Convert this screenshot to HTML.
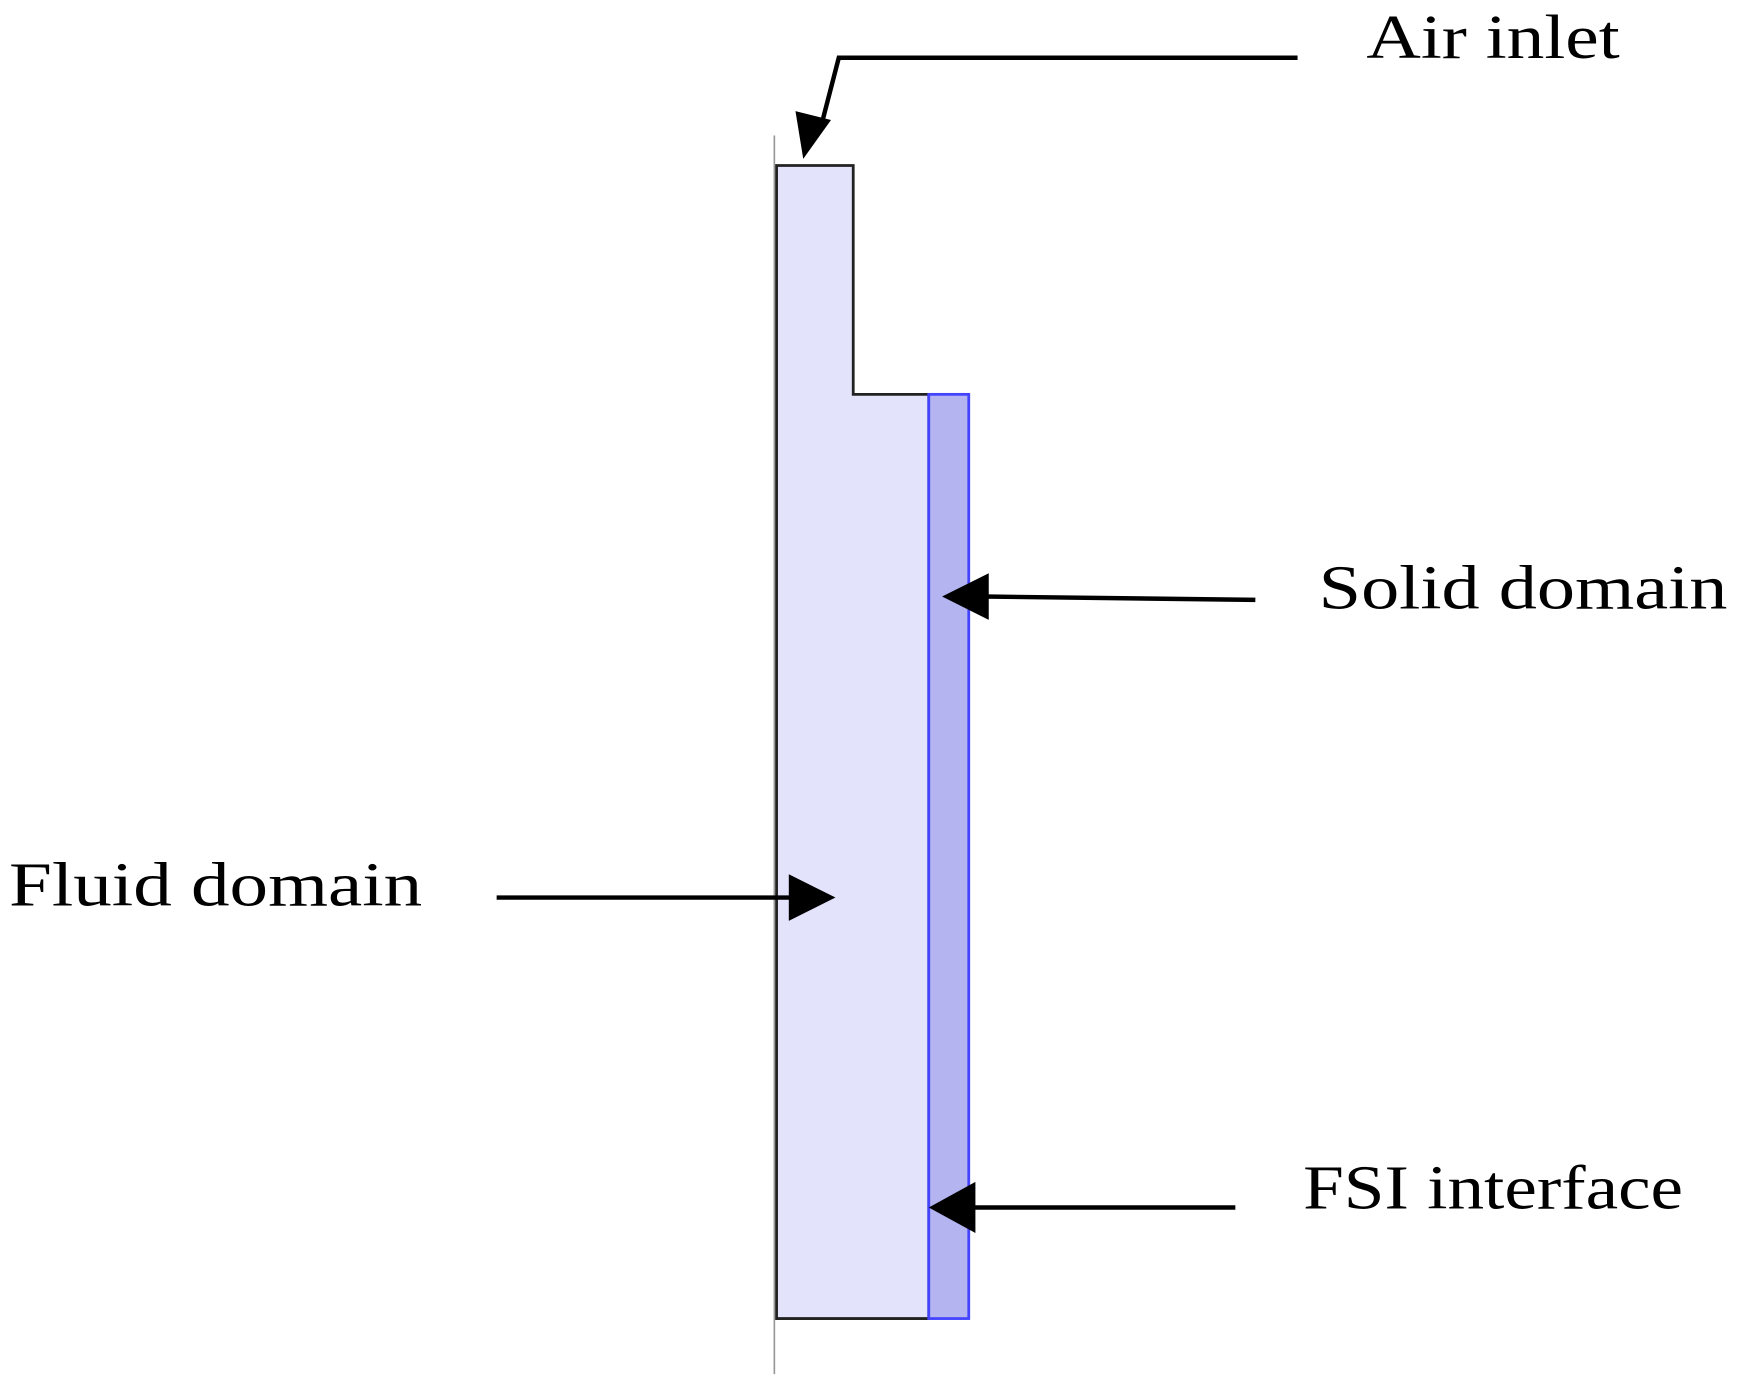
<!DOCTYPE html>
<html><head><meta charset="utf-8"><style>html,body{margin:0;padding:0;background:#fff}svg{display:block}</style></head>
<body>
<svg width="1742" height="1383" viewBox="0 0 1568 1245" xmlns="http://www.w3.org/2000/svg">
<rect width="1568" height="1245" fill="#fff"/>
<line x1="697" y1="122" x2="697" y2="1237" stroke="#999" stroke-width="1.5"/>
<path d="M699,149 H768 V355 H836 V1187 H699 Z" fill="#e3e3fb" stroke="#222" stroke-width="2.5"/>
<rect x="836" y="355" width="36" height="832" fill="#b4b4f0" stroke="#4444ff" stroke-width="2.5"/>
<g font-family="'Liberation Serif', serif" font-size="56" fill="#000">
<text x="1230" y="52" textLength="228" lengthAdjust="spacingAndGlyphs">Air inlet</text>
<text x="1187" y="548" textLength="368" lengthAdjust="spacingAndGlyphs">Solid domain</text>
<text x="8" y="815" textLength="372" lengthAdjust="spacingAndGlyphs">Fluid domain</text>
<text x="1173" y="1088" textLength="342" lengthAdjust="spacingAndGlyphs">FSI interface</text>
</g>
<g stroke="#000" stroke-width="4" fill="none">
<polyline points="1168,52 755,52 740,110"/>
<line x1="1130" y1="540" x2="885" y2="537"/>
<line x1="447" y1="808" x2="712" y2="808"/>
<line x1="1112" y1="1087" x2="875" y2="1087"/>
</g>
<g fill="#000">
<polygon points="723,143 716,100 748,108"/>
<polygon points="848,537 890,516 890,558"/>
<polygon points="752,808 710,787 710,829"/>
<polygon points="836,1087 878,1064 878,1110"/>
</g>
</svg>
</body></html>
